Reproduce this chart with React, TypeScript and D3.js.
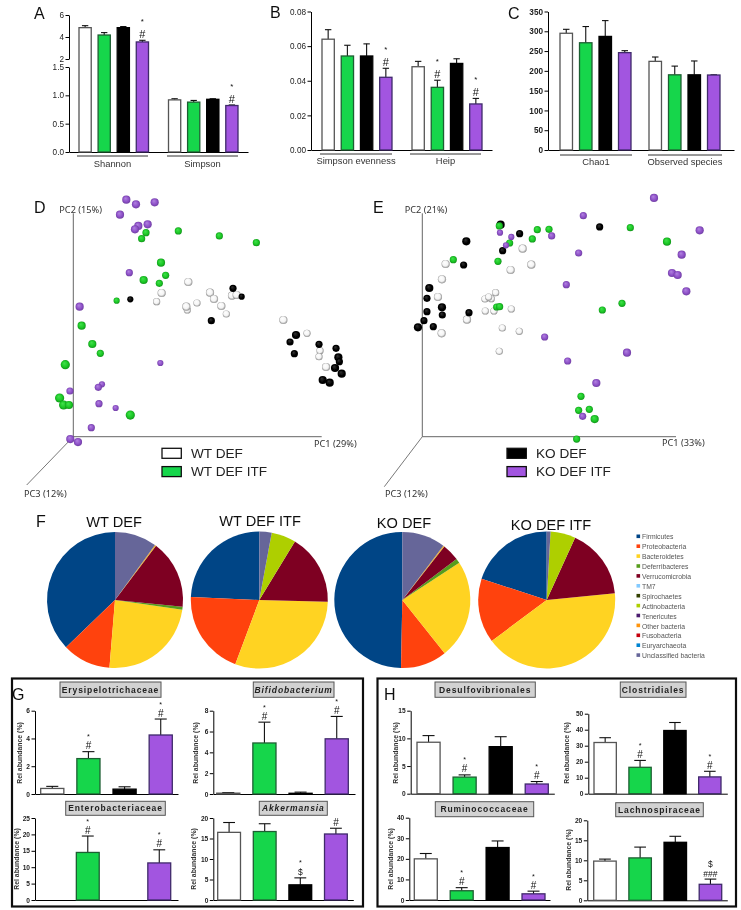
import * as d3 from 'd3';
import { useEffect, useRef } from 'react';

const FONT = '"Liberation Sans", Arial, sans-serif';
const PC_FONT = '"Noto Sans", "Open Sans", sans-serif';

// groups, in the order of the bars
const groups = ['WT DEF', 'WT DEF ITF', 'KO DEF', 'KO DEF ITF'];
const groupFill = ['#ffffff', '#15d64c', '#000000', '#a255e0'];
const groupStroke = ['#555555', '#1f5f33', '#000000', '#3f2a6b'];

// panels A, B, C: mean and sem per group
const shannonMeans = [4.85, 4.18, 4.85, 3.55];
const shannonSems = [0.18, 0.22, 0.1, 0.15];
const simpsonMeans = [0.92, 0.88, 0.93, 0.82];
const simpsonSems = [0.02, 0.03, 0.01, 0.01];
const evennessMeans = [0.064, 0.0543, 0.0543, 0.042];
const evennessSems = [0.0055, 0.0062, 0.007, 0.0052];
const heipMeans = [0.0481, 0.0362, 0.05, 0.0266];
const heipSems = [0.0031, 0.0041, 0.0027, 0.0032];
const chaoMeans = [295, 271, 287, 246];
const chaoSems = [10, 41, 40, 5];
const observedMeans = [224, 190, 190, 189.5];
const observedSems = [11, 22, 35, 0.5];

// panels G, H
const erysipeloMeans = [0.4, 2.55, 0.35, 4.25];
const erysipeloSems = [0.15, 0.5, 0.17, 1.15];
const bifidoMeans = [0.08, 4.9, 0.07, 5.3];
const bifidoSems = [0.06, 2, 0.11, 2.15];
const enteroMeans = [0, 14.5, 0, 11.3];
const enteroSems = [0, 5, 0, 4];
const akkerMeans = [16.5, 16.7, 3.7, 16.1];
const akkerSems = [2.4, 1.9, 1.7, 1.4];
const desulfoMeans = [9.3, 3, 8.5, 1.75];
const desulfoSems = [1.2, 0.4, 1.8, 0.45];
const clostMeans = [32, 16.5, 39.5, 10.5];
const clostSems = [3, 4.3, 5, 3.5];
const ruminoMeans = [20, 4.5, 25.5, 3];
const ruminoSems = [2.6, 1.5, 3.2, 1.3];
const lachnoMeans = [9.8, 10.6, 14.5, 4];
const lachnoSems = [0.5, 2.7, 1.5, 1.3];

// PCoA points: [pc1, pc2, pc3 depth]
const wtDefD = [[345,464,2],[265,431,2],[250,405,1],[410,432,2],[422,413,2],[371,401,1],[342,380,1],[339,390,2],[444,392,2],[459,368,1],[476,423,2],[490,425,2],[630,350,2],[701,310,1],[740,258,1],[737,240,1],[758,209,2]];
const koDefD = [[479,445,1],[505,420,0],[171,412,0],[414,348,1],[668,305,2],[650,284,1],[663,249,1],[737,277,1],[788,265,1],[795,238,2],[798,225,1],[785,206,2],[805,189,2],[748,170,2],[769,162,2]];
const wtItfD = [[218,612,1],[205,594,1],[315,617,1],[438,602,1],[549,582,1],[263,522,2],[277,484,1],[211,470,2],[258,460,1],[130,408,0],[25,333,2],[57,278,2],[81,250,1],[-24,216,3],[-41,116,3],[-29,95,3],[-13,95,2],[171,65,3]];
const koItfD = [[159,711,2],[188,697,2],[244,703,2],[140,666,2],[223,637,2],[195,632,2],[185,622,2],[168,492,1],[19,390,2],[261,221,0],[86,157,0],[75,148,1],[-10,137,1],[77,99,1],[127,86,0],[54,27,1],[-9,-7,2],[14,-16,2]];

const wtDefE = [[301,564,2],[70,518,2],[327,516,2],[265,500,2],[59,472,2],[47,419,2],[220,432,1],[188,413,1],[207,414,1],[199,419,1],[189,377,1],[215,377,1],[267,383,1],[134,351,2],[240,326,1],[291,316,1],[58,310,2],[231,256,1]];
const wtItfE = [[231,632,1],[345,621,1],[380,622,1],[624,627,1],[330,593,1],[262,581,1],[734,585,2],[93,531,1],[227,526,1],[223,389,1],[232,390,1],[599,400,1],[540,380,1],[476,121,1],[469,79,1],[501,82,1],[517,53,2],[463,-7,1]];
const koDefE = [[235,636,2],[292,609,1],[532,629,1],[132,586,2],[241,558,1],[124,515,1],[21,446,2],[14,415,1],[59,388,2],[14,375,1],[60,365,1],[140,372,1],[5,348,1],[33,330,1],[-13,328,2]];
const koItfE = [[695,716,2],[483,663,1],[832,619,2],[233,612,0],[267,599,0],[388,602,1],[251,574,0],[469,551,1],[778,546,2],[749,491,2],[766,485,2],[432,456,1],[792,436,2],[367,299,1],[614,252,2],[436,227,1],[522,161,2],[481,61,1]];

// panel F
const phyla = ['Firmicutes', 'Proteobacteria', 'Bacteroidetes', 'Deferribacteres', 'Verrucomicrobia', 'TM7', 'Spirochaetes', 'Actinobacteria', 'Tenericutes', 'Other bacteria', 'Fusobacteria', 'Euryarchaeota', 'Unclassified bacteria'];
const phylaColors = ['#004586', '#ff420e', '#ffd320', '#579d1c', '#7e0021', '#83caff', '#314004', '#aecf00', '#4b1f6f', '#ff950e', '#c5000b', '#0084d1', '#666699'];
const pieWtDef = [37.2, 11.5, 24, 0.7, 16.3, 0, 0, 0.1, 0, 0.2, 0, 0, 10];
const pieWtItf = [24.3, 20, 30.3, 0, 16.7, 0, 0, 5.8, 0, 0, 0, 0, 2.9];
const pieKoDef = [49.7, 11, 23.5, 1.1, 4.1, 0, 0, 0.1, 0, 0.2, 0, 0, 10.3];
const pieKoItf = [20, 15.2, 41.4, 0, 16.6, 0, 0, 5.9, 0, 0, 0, 0, 0.9];

type Axis = { scale: any; ticks: number[]; fmt: string };

function YAxis({ x, scale, ticks, fmt, size, bold }: Axis & { x: number; size: number; bold?: boolean }) {
  const ref = useRef<SVGGElement>(null);
  useEffect(() => {
    const g = d3.select(ref.current);
    g.call(d3.axisLeft(scale).tickValues(ticks).tickFormat(d3.format(fmt) as any).tickSize(3.5).tickSizeOuter(0).tickPadding(1.5) as any);
    g.attr('font-size', size).attr('font-family', FONT).attr('font-weight', bold ? 'bold' : 'normal');
    g.selectAll('text').attr('fill', '#222');
    g.selectAll('line,path').attr('stroke', '#000').attr('stroke-width', 1);
  }, []);
  return <g ref={ref} transform={`translate(${x},0)`} />;
}

function XLine({ x0, x1, y }: { x0: number; x1: number; y: number }) {
  const ref = useRef<SVGGElement>(null);
  useEffect(() => {
    const scale = d3.scaleLinear().domain([0, 1]).range([x0, x1]);
    const g = d3.select(ref.current);
    g.call(d3.axisBottom(scale).tickValues([]).tickSizeOuter(0) as any);
    g.selectAll('path').attr('stroke', '#000').attr('stroke-width', 1);
  }, []);
  return <g ref={ref} transform={`translate(0,${y})`} />;
}

function Bars({ means, sems, x0, x1, y, marks, gaps, base, markSize }: any) {
  const band = d3.scaleBand().domain(groups).range([x0, x1]).paddingInner(0.36);
  const w = band.bandwidth();
  return (
    <g>
      {groups.map((name, i) => {
        if (means[i] === 0) return null;
        const bx = band(name) as number;
        const cx = bx + w / 2;
        const top = y(means[i] + sems[i]);
        let ty = top - 2.4;
        return (
          <g key={name}>
            <line x1={cx} x2={cx} y1={y(means[i])} y2={top} stroke="#111" strokeWidth={1.1} />
            <line x1={cx - w * 0.26} x2={cx + w * 0.26} y1={top} y2={top} stroke="#111" strokeWidth={1.1} />
            <rect x={bx} y={y(means[i])} width={w} height={base - y(means[i])} fill={groupFill[i]} stroke={groupStroke[i]} strokeWidth={1.3} />
            {[...(marks?.[i] ?? [])].reverse().map((m: string, k: number) => {
              const star = m === '*';
              if (k > 0) ty -= star ? gaps : 10;
              const size = star ? markSize * 0.72 : m === '#' ? markSize : 8.5;
              return (
                <text key={k} x={cx} y={ty} textAnchor="middle" fontFamily={FONT} fontSize={size} fill="#111">
                  {m}
                </text>
              );
            })}
          </g>
        );
      })}
    </g>
  );
}

function Group({ label, x0, x1, y, labelY, fs = 9.4 }: any) {
  return (
    <g>
      <line x1={x0} x2={x1} y1={y} y2={y} stroke="#333" strokeWidth={1} />
      <text x={(x0 + x1) / 2} y={labelY} textAnchor="middle" fontFamily={FONT} fontSize={fs} fill="#333">
        {label}
      </text>
    </g>
  );
}

function TopPanels() {
  const yA = d3.scaleLinear().domain([0, 1.5, 2, 6]).range([152, 67, 59, 15]);
  const yAlow = d3.scaleLinear().domain([0, 1.5]).range([152, 67]);
  const yAtop = d3.scaleLinear().domain([2, 6]).range([59, 15]);
  const yB = d3.scaleLinear().domain([0, 0.08]).range([150, 11.5]);
  const yC = d3.scaleLinear().domain([0, 350]).range([150, 11.5]);
  const star = [[], [], [], ['*', '#']];
  return (
    <g>
      <YAxis x={69} scale={yAtop} ticks={[2, 4, 6]} fmt="d" size={8.2} />
      <YAxis x={69} scale={yAlow} ticks={[0, 0.5, 1, 1.5]} fmt=".1f" size={8.2} />
      <XLine x0={69} x1={248} y={152} />
      <Bars means={shannonMeans} sems={shannonSems} x0={79} x1={148.5} y={yA} base={152} marks={star} gaps={14} markSize={11} />
      <Bars means={simpsonMeans} sems={simpsonSems} x0={168.5} x1={238} y={yA} base={152} marks={star} gaps={14} markSize={11} />
      <Group label="Shannon" x0={77} x1={148} y={156} labelY={167} />
      <Group label="Simpson" x0={167} x1={238} y={156} labelY={167} />

      <YAxis x={311} scale={yB} ticks={[0, 0.02, 0.04, 0.06, 0.08]} fmt=".2f" size={8.2} />
      <XLine x0={311} x1={492} y={150} />
      <Bars means={evennessMeans} sems={evennessSems} x0={322} x1={392} y={yB} base={150} marks={star} gaps={14} markSize={11} />
      <Bars means={heipMeans} sems={heipSems} x0={412} x1={482} y={yB} base={150} marks={[[], ['*', '#'], [], ['*', '#']]} gaps={14} markSize={11} />
      <Group label="Simpson evenness" x0={320} x1={392} y={154} labelY={164} />
      <Group label="Heip" x0={410} x1={481} y={154} labelY={164} />

      <YAxis x={548} scale={yC} ticks={[0, 50, 100, 150, 200, 250, 300, 350]} fmt="d" size={8.2} bold />
      <XLine x0={548} x1={734} y={150} />
      <Bars means={chaoMeans} sems={chaoSems} x0={560} x1={631} y={yC} base={150} />
      <Bars means={observedMeans} sems={observedSems} x0={649} x1={720} y={yC} base={150} />
      <Group label="Chao1" x0={560} x1={632} y={155} labelY={165} />
      <Group label="Observed species" x0={648} x1={722} y={155} labelY={165} />
    </g>
  );
}

const depthRadius = d3.scaleLinear().domain([0, 3]).range([3.1, 4.6]);

function Spheres({ points, x, y, id }: any) {
  return (
    <g>
      {points.map((p: number[], i: number) => (
        <circle key={i} cx={x(p[0])} cy={y(p[1])} r={depthRadius(p[2])} fill={`url(#${id})`} />
      ))}
    </g>
  );
}

function Scatter({ ox, xEnd, top, pc3, labels, layers, legend, legendX }: any) {
  const base = 436.7;
  const x = d3.scaleLinear().domain([0, ox.units]).range([ox.x, xEnd]);
  const y = d3.scaleLinear().domain([0, 670]).range([base, top]);
  return (
    <g>
      <line x1={ox.x} x2={ox.x} y1={top} y2={base} stroke="#666" strokeWidth={1} />
      <line x1={ox.x} x2={xEnd} y1={base} y2={base} stroke="#666" strokeWidth={1} />
      <line x1={ox.x} x2={pc3[0]} y1={base} y2={pc3[1]} stroke="#555" strokeWidth={0.8} />
      {labels.map((l: any) => (
        <text key={l[0]} x={l[1]} y={l[2]} fontFamily={PC_FONT} fontSize={9.2} fill="#333">
          {l[0]}
        </text>
      ))}
      {layers.map((l: any, i: number) => (
        <Spheres key={i} points={l[0]} x={x} y={y} id={l[1]} />
      ))}
      {legend.map((k: number, i: number) => (
        <g key={k}>
          <rect x={legendX} y={448.3 + i * 18.3} width={19.3} height={10} fill={groupFill[k]} stroke="#111" strokeWidth={1.3} />
          <text x={legendX + 29} y={458 + i * 18.3} fontFamily={FONT} fontSize={13.6} fill="#222">
            {groups[k]}
          </text>
        </g>
      ))}
    </g>
  );
}

function Pie({ values, cx, r, title, titleX, titleY }: any) {
  // slices run counter-clockwise from 12 o'clock, as in the spreadsheet chart
  const arcs = d3.pie<number>().sort(null).startAngle(0).endAngle(-2 * Math.PI)(values);
  const arc = d3.arc<any>().innerRadius(0).outerRadius(r);
  return (
    <g>
      <text x={titleX} y={titleY} textAnchor="middle" fontFamily={FONT} fontSize={14.6} fill="#111">
        {title}
      </text>
      <g transform={`translate(${cx},600)`}>
        {arcs.map((a, i) => (a.value > 0 ? <path key={i} d={arc(a) as string} fill={phylaColors[i]} /> : null))}
      </g>
    </g>
  );
}

function MiniBar({ title, italic, box, means, sems, domain, ticks, axisX, xEnd, bars, yTop, yBase, labelX, labelY, marks }: any) {
  const y = d3.scaleLinear().domain(domain).range([yBase, yTop]);
  return (
    <g>
      <rect x={box[0]} y={box[2]} width={box[1] - box[0]} height={box[3] - box[2]} fill="#d2d2d2" stroke="#555" strokeWidth={1} />
      <text x={(box[0] + box[1]) / 2} y={(box[2] + box[3]) / 2 + 3} textAnchor="middle" fontFamily={FONT} fontSize={8.5} fontWeight="bold" fontStyle={italic ? 'italic' : 'normal'} letterSpacing={0.9} fill="#222">
        {title}
      </text>
      <YAxis x={axisX} scale={y} ticks={ticks} fmt="d" size={6.6} bold />
      <XLine x0={axisX} x1={xEnd} y={yBase} />
      <Bars means={means} sems={sems} x0={bars[0]} x1={bars[1]} y={y} base={yBase} marks={marks} gaps={10} markSize={10} />
      <text transform={`translate(${labelX + 2.5},${labelY}) rotate(-90)`} textAnchor="middle" fontFamily={FONT} fontSize={6.9} fontWeight="bold" fill="#333">
        Rel abundance (%)
      </text>
    </g>
  );
}

const letter = (t: string, x: number, y: number) => (
  <text x={x} y={y} fontFamily={FONT} fontSize={16} fill="#111">
    {t}
  </text>
);

const sphereDefs = [
  ['sphWhite', '#ffffff', '#f4f4f4', '#777777'],
  ['sphBlack', '#333333', '#000000', '#000000'],
  ['sphGreen', '#43e04d', '#1cc926', '#0f8a18'],
  ['sphPurple', '#b284e0', '#8f52c9', '#6a3a9c'],
];

export default function App() {
  const sig = ['*', '#'];
  return (
    <svg width={741} height={910} viewBox="0 0 741 910" style={{ position: 'absolute', left: 0, top: 0, background: '#fff' }}>
      <defs>
        {sphereDefs.map((s) => (
          <radialGradient key={s[0]} id={s[0]} cx="50%" cy="50%" r="55%" fx="38%" fy="32%">
            <stop offset="0%" stopColor={s[1]} />
            <stop offset="60%" stopColor={s[2]} />
            <stop offset="100%" stopColor={s[3]} />
          </radialGradient>
        ))}
        <filter id="soft" x="0" y="0" width="100%" height="100%">
          <feGaussianBlur stdDeviation="0.3" />
        </filter>
      </defs>

      <g filter="url(#soft)">
        <rect x={0} y={0} width={741} height={910} fill="#fff" />
        {letter('A', 34, 19)}
        {letter('B', 270, 18)}
        {letter('C', 508, 19)}
        <TopPanels />

        {letter('D', 34, 213)}
        <Scatter
          ox={{ x: 73.3, units: 745 }}
          xEnd={321.7}
          top={213.3}
          pc3={[26.7, 485]}
          labels={[['PC2 (15%)', 59.3, 213], ['PC1 (29%)', 314, 447], ['PC3 (12%)', 24, 497]]}
          layers={[[wtDefD, 'sphWhite'], [koDefD, 'sphBlack'], [wtItfD, 'sphGreen'], [koItfD, 'sphPurple']]}
          legend={[0, 1]}
          legendX={162}
        />
        {letter('E', 373, 213)}
        <Scatter
          ox={{ x: 422.3, units: 761 }}
          xEnd={676}
          top={213.3}
          pc3={[384.3, 486.7]}
          labels={[['PC2 (21%)', 404.7, 213], ['PC1 (33%)', 662, 446], ['PC3 (12%)', 385, 497]]}
          layers={[[wtDefE, 'sphWhite'], [koDefE, 'sphBlack'], [wtItfE, 'sphGreen'], [koItfE, 'sphPurple']]}
          legend={[2, 3]}
          legendX={507}
        />

        {letter('F', 36, 527)}
        <Pie values={pieWtDef} cx={115} r={68} title="WT DEF" titleX={114} titleY={527} />
        <Pie values={pieWtItf} cx={259.3} r={68.5} title="WT DEF ITF" titleX={260} titleY={526} />
        <Pie values={pieKoDef} cx={402.3} r={68} title="KO DEF" titleX={404} titleY={528} />
        <Pie values={pieKoItf} cx={546.7} r={68.5} title="KO DEF ITF" titleX={551} titleY={530} />
        {phyla.map((p, i) => (
          <g key={p}>
            <rect x={636.5} y={534.5 + i * 9.9} width={3.6} height={3.6} fill={phylaColors[i]} />
            <text x={642} y={539.4 + i * 9.9} fontFamily={FONT} fontSize={6.8} fill="#555">
              {p}
            </text>
          </g>
        ))}

        <rect x={12} y={678.5} width={351} height={228} fill="none" stroke="#111" strokeWidth={2.2} />
        <rect x={377.5} y={678.5} width={358.5} height={228} fill="none" stroke="#111" strokeWidth={2.2} />
        {letter('G', 12, 700)}
        {letter('H', 384, 700)}

        <MiniBar title="Erysipelotrichaceae" box={[60, 161, 682, 697.3]} means={erysipeloMeans} sems={erysipeloSems} domain={[0, 6]} ticks={[0, 2, 4, 6]} axisX={35} xEnd={178} bars={[40.7, 172.3]} yTop={710.7} yBase={794} labelX={19} labelY={753} marks={[[], sig, [], sig]} />
        <MiniBar title="Bifidobacterium" italic box={[253.3, 334, 682, 697.3]} means={bifidoMeans} sems={bifidoSems} domain={[0, 8]} ticks={[0, 2, 4, 6, 8]} axisX={213.3} xEnd={355} bars={[216.7, 348.3]} yTop={710.7} yBase={794} labelX={195} labelY={753} marks={[[], sig, [], sig]} />
        <MiniBar title="Enterobacteriaceae" box={[65.7, 165.3, 801.3, 815.3]} means={enteroMeans} sems={enteroSems} domain={[0, 25]} ticks={[0, 5, 10, 15, 20, 25]} axisX={35} xEnd={178} bars={[40.6, 170.7]} yTop={818} yBase={900} labelX={16} labelY={859} marks={[[], sig, [], sig]} />
        <MiniBar title="Akkermansia" italic box={[259.3, 327.3, 801.3, 815.3]} means={akkerMeans} sems={akkerSems} domain={[0, 20]} ticks={[0, 5, 10, 15, 20]} axisX={213.3} xEnd={353.3} bars={[217.7, 347.3]} yTop={818} yBase={900} labelX={193.3} labelY={859} marks={[[], [], ['*', '$'], ['#']]} />

        <MiniBar title="Desulfovibrionales" box={[435, 535.3, 682, 697.3]} means={desulfoMeans} sems={desulfoSems} domain={[0, 15]} ticks={[0, 5, 10, 15]} axisX={410.7} xEnd={554.3} bars={[417, 548.3]} yTop={710.7} yBase={793.7} labelX={395} labelY={753} marks={[[], sig, [], sig]} />
        <MiniBar title="Clostridiales" box={[620.3, 686, 682, 697.3]} means={clostMeans} sems={clostSems} domain={[0, 50]} ticks={[0, 10, 20, 30, 40, 50]} axisX={588.3} xEnd={727.3} bars={[594, 721]} yTop={713.7} yBase={793.7} labelX={566.7} labelY={753} marks={[[], sig, [], sig]} />
        <MiniBar title="Ruminococcaceae" box={[435.3, 533.7, 801.7, 816.7]} means={ruminoMeans} sems={ruminoSems} domain={[0, 40]} ticks={[0, 10, 20, 30, 40]} axisX={409.3} xEnd={550} bars={[414.3, 545]} yTop={817.7} yBase={900} labelX={390.7} labelY={859} marks={[[], sig, [], sig]} />
        <MiniBar title="Lachnospiraceae" box={[615.7, 703.3, 802.7, 816.7]} means={lachnoMeans} sems={lachnoSems} domain={[0, 20]} ticks={[0, 5, 10, 15, 20]} axisX={587.3} xEnd={727.3} bars={[593.7, 721.7]} yTop={820.3} yBase={900.3} labelX={568} labelY={860} marks={[[], [], [], ['$', '###']]} />
      </g>
    </svg>
  );
}
